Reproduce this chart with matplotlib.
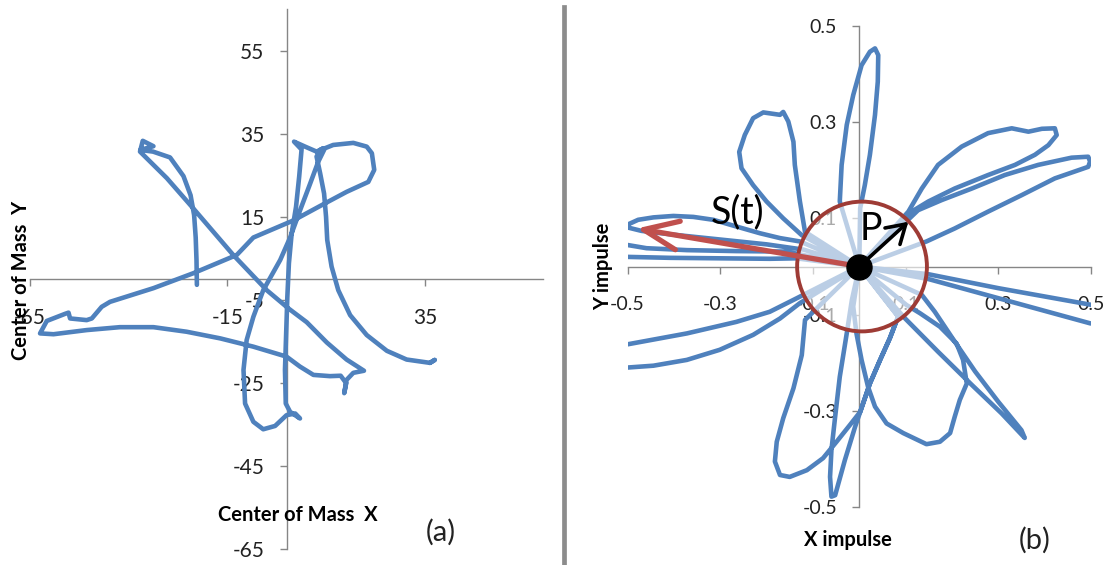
import matplotlib
matplotlib.use("Agg")
import matplotlib.pyplot as plt
from matplotlib.patches import FancyArrowPatch, Ellipse

plt.rcParams['font.family'] = ['Lato', 'DejaVu Sans']

# ---------------- data: panel (a) centre of mass trajectory ----------------
com_x = [36.3, 37.5, 36.3, 30.4, 25.4, 20.3, 16.1, 13.1, 11.4, 10.3, 10.0, 9.5, 8.5, 7.6, 8.5, 9.3,
         7.6, 4.7, 1.9, 3.8, 3.2, 2.4, 1.3, 0.6, 0.2, -0.1, -0.4, -0.2, 0.9, 3.4, 2.2,
         0.0, -2.9, -5.9, -8.4, -10.5, -10.9, -10.1, -8.4, -5.9, -1.6, 0.9, 3.4, 5.9, 8.0, 9.7,
         11.8, 16.9, 20.3, 21.6, 22.2, 20.7, 15.2, 8.5, 1.7, -8.4, -12.6, -23.6, -33.7, -44.7,
         -46.8, -49.3, -50.6, -54.8, -55.2, -56.1, -60.7, -62.4, -59.0, -50.6, -42.2, -33.7,
         -25.3, -16.8, -8.4, 0.0, 3.4, 6.8, 11.0, 13.7, 15.1, 14.6, 15.2, 16.9, 19.6,
         15.2, 10.2, 5.1, 0.5, -5.0, -13.5, -23.6, -30.3, -37.1, -36.4, -33.7, -37.0, -33.8,
         -29.5, -26.1, -24.3, -23.4, -23.0, -22.8, -22.7]
com_y = [-20.2, -19.5, -20.2, -19.4, -17.3, -13.5, -8.7, -2.7, 3.0, 9.4, 15.0, 20.6, 25.5, 29.5, 31.1, 31.5,
         30.7, 31.9, 33.1, 31.2, 24.7, 17.4, 11.0, 3.8, -4.3, -13.1, -21.9, -30.0, -32.0, -33.6, -32.4,
         -32.8, -35.4, -36.2, -34.4, -30.0, -21.9, -14.7, -9.1, -2.7, 4.6, 10.0, 16.5, 22.8, 28.2, 31.5,
         32.3, 32.8, 31.9, 30.3, 26.3, 23.4, 21.0, 17.6, 14.1, 10.0, 5.8, 1.4, -2.2, -5.5,
         -6.7, -9.5, -9.9, -9.5, -8.1, -8.4, -10.1, -13.1, -13.3, -12.3, -11.6, -11.6,
         -12.7, -14.3, -16.3, -18.7, -21.1, -23.1, -23.4, -23.3, -25.1, -27.5, -24.3, -22.6, -22.1,
         -19.4, -15.3, -10.4, -7.1, -2.7, 5.8, 17.0, 24.3, 30.7, 33.3, 32.0, 31.1, 30.7,
         29.3, 24.8, 20.2, 15.4, 10.0, 4.6, -1.4]
com_xticks = [-65, -15, 35]
com_yticks = [-65, -45, -25, -5, 15, 35, 55]

# ---------------- data: panel (b) impulse trajectory ----------------
impulse_x = [0.0,
    -0.042, -0.038, -0.027, -0.013, 0.005, 0.023, 0.034, 0.041, 0.040, 0.034, 0.023, 0.012, 0.002, 0.0,
    0.106, 0.135, 0.170, 0.221, 0.278, 0.329, 0.365, 0.394, 0.422, 0.426, 0.408, 0.379, 0.336, 0.278, 0.206, 0.149, 0.113, 0.0,
    0.127, 0.178, 0.243, 0.314, 0.386, 0.458, 0.494, 0.498, 0.494, 0.422, 0.350, 0.278, 0.206, 0.145, 0.0,
    0.149, 0.300, 0.498, 0.56, 0.56, 0.498, 0.278, 0.149, 0.0,
    0.099, 0.170, 0.243, 0.307, 0.357, 0.350, 0.300, 0.250, 0.206, 0.163, 0.135, 0.0,
    -0.013, -0.006, 0.005, 0.019, 0.034, 0.059, 0.095, 0.145, 0.174, 0.196, 0.206, 0.217, 0.232, 0.224, 0.210, 0.174, 0.131, 0.102, 0.0,
    -0.016, -0.027, -0.042, -0.052, -0.060, -0.063, -0.060, -0.052, -0.031, -0.009, 0.002, 0.023, 0.045, 0.066, 0.084, 0.0,
    -0.117, -0.124, -0.142, -0.164, -0.178, -0.182, -0.171, -0.150, -0.113, -0.078, -0.049, -0.020, 0.002, 0.023, 0.045, 0.066, 0.084, 0.0,
    -0.135, -0.193, -0.265, -0.372, -0.502, -0.56, -0.56, -0.502, -0.444, -0.372, -0.301, -0.229, -0.171, -0.128, 0.0,
    -0.157, -0.265, -0.372, -0.459, -0.502, -0.56, -0.56, -0.502, -0.408, -0.301, -0.193, -0.135, 0.0,
    -0.128, -0.171, -0.214, -0.265, -0.315, -0.358, -0.401, -0.444, -0.477, -0.502, -0.512, -0.47, -0.40, -0.30, -0.20, -0.12, 0.0,
    -0.117, -0.128, -0.139, -0.142, -0.153, -0.164, -0.171, -0.207, -0.229, -0.247, -0.259, -0.254, -0.229, -0.200, -0.164, -0.124, 0.0]
impulse_y = [0.0,
    0.135, 0.211, 0.294, 0.356, 0.418, 0.446, 0.453, 0.439, 0.384, 0.315, 0.232, 0.169, 0.121, 0.0,
    0.114, 0.162, 0.211, 0.249, 0.277, 0.287, 0.280, 0.286, 0.287, 0.273, 0.252, 0.232, 0.211, 0.190, 0.162, 0.135, 0.114, 0.0,
    0.117, 0.138, 0.162, 0.190, 0.211, 0.226, 0.228, 0.218, 0.207, 0.183, 0.148, 0.114, 0.079, 0.052, 0.0,
    -0.016, -0.045, -0.079, -0.090, -0.125, -0.118, -0.060, -0.026, 0.0,
    -0.108, -0.177, -0.246, -0.305, -0.356, -0.340, -0.281, -0.218, -0.156, -0.094, -0.059, 0.0,
    -0.083, -0.139, -0.194, -0.250, -0.291, -0.326, -0.346, -0.369, -0.364, -0.346, -0.312, -0.277, -0.243, -0.194, -0.160, -0.125, -0.097, -0.080, 0.0,
    -0.070, -0.139, -0.229, -0.312, -0.381, -0.437, -0.478, -0.475, -0.402, -0.333, -0.302, -0.243, -0.194, -0.149, -0.104, 0.0,
    -0.111, -0.184, -0.253, -0.315, -0.364, -0.405, -0.433, -0.437, -0.423, -0.398, -0.364, -0.329, -0.302, -0.243, -0.194, -0.149, -0.104, 0.0,
    -0.066, -0.094, -0.115, -0.139, -0.162, -0.172, -0.213, -0.210, -0.206, -0.194, -0.173, -0.142, -0.108, -0.076, 0.0,
    0.031, 0.032, 0.034, 0.038, 0.045, 0.040, 0.015, 0.020, 0.018, 0.017, 0.016, 0.017, 0.0,
    0.052, 0.059, 0.069, 0.083, 0.097, 0.103, 0.105, 0.102, 0.097, 0.086, 0.084, 0.074, 0.066, 0.056, 0.046, 0.035, 0.0,
    0.072, 0.135, 0.211, 0.259, 0.301, 0.321, 0.315, 0.320, 0.308, 0.273, 0.238, 0.204, 0.169, 0.135, 0.100, 0.065, 0.0]
impulse_ticks = [-0.5, -0.3, -0.1, 0.1, 0.3, 0.5]
s_vector = [-0.48, 0.079]
p_vector = [0.106, 0.093]
p_circle_radius = 0.14

LINE = '#4F81BD'
AXC = '#868686'
TXT = '#222222'

W, H = 1108, 565
fig = plt.figure(figsize=(W / 100, H / 100), dpi=100)


def fx(px):
    return px / W


def fy(py):
    return 1 - py / H


def style_axes(ax, xt, yt, fmt, lsize):
    for s in ('top', 'right'):
        ax.spines[s].set_visible(False)
    for s in ('left', 'bottom'):
        ax.spines[s].set_position(('data', 0))
        ax.spines[s].set_color(AXC)
        ax.spines[s].set_linewidth(1.0)
    ax.set_xticks(xt)
    ax.set_yticks(yt)
    ax.set_xticklabels([fmt(v) for v in xt])
    ax.set_yticklabels([fmt(v) for v in yt])
    ax.tick_params(axis='both', direction='out', length=5, width=1.0, color=AXC,
                   labelsize=lsize, labelcolor=TXT)
    ax.tick_params(axis='x', pad=16)
    ax.tick_params(axis='y', pad=11)
    ax.patch.set_visible(False)


# ---------------- panel (a) ----------------
axL = fig.add_axes([fx(29.8), fy(548.8), fx(543.3) - fx(29.8), fy(9.25) - fy(548.8)])
axL.set_xlim(-65, 65)
axL.set_ylim(-65, 65)
style_axes(axL, com_xticks, com_yticks, lambda v: f'{v:d}', 15)
axL.plot(com_x, com_y, color=LINE, lw=3.3, solid_capstyle='round', solid_joinstyle='round', zorder=3)

fig.text(fx(21), fy(280), 'Center of Mass  Y', rotation=90, ha='center', va='center',
         fontsize=14.5, fontweight='bold', color='black')
fig.text(fx(298), fy(515), 'Center of Mass  X', ha='center', va='center',
         fontsize=14.5, fontweight='bold', color='black')
fig.text(fx(441), fy(532), '(a)', ha='center', va='center', fontsize=21, color='#222222')

# separator
fig.add_artist(plt.Line2D([fx(564), fx(564)], [fy(7), fy(565)], color='#8c8c8c', lw=3.4))

# ---------------- panel (b) ----------------
axR = fig.add_axes([fx(627.5), fy(507.25), fx(1091) - fx(627.5), fy(25.75) - fy(507.25)])
axR.set_xlim(-0.5, 0.5)
axR.set_ylim(-0.5, 0.5)
style_axes(axR, impulse_ticks, impulse_ticks, lambda v: f'{v:.1f}', 14)
axR.plot(impulse_x, impulse_y, color=LINE, lw=3.3, solid_capstyle='round', solid_joinstyle='round', zorder=3)

rx = p_circle_radius * 1.0
ry = p_circle_radius * 463.5 / 481.5
circ = Ellipse((0.006, 0.0), 2 * rx, 2 * ry, facecolor=(1, 1, 1, 0.62), edgecolor='#9E3B35',
               lw=2.8, zorder=5)
axR.add_patch(circ)

arrS = FancyArrowPatch((0, 0), tuple(s_vector), arrowstyle='->,head_length=1.25,head_width=0.52',
                       mutation_scale=20, lw=3.8, color='#C0504D', shrinkA=0, shrinkB=0, zorder=6,
                       capstyle='round', joinstyle='round')
axR.add_patch(arrS)
arrP = FancyArrowPatch((0, 0), tuple(p_vector), arrowstyle='->,head_length=0.65,head_width=0.4',
                       mutation_scale=20, lw=2.6, color='black', shrinkA=0, shrinkB=0, zorder=6)
axR.add_patch(arrP)
axR.plot([0], [0], 'o', ms=18, color='black', zorder=7)

axR.text(-0.263, 0.113, 'S(t)', ha='center', va='center', fontsize=27, color='black', zorder=8)
axR.text(0.025, 0.078, 'P', ha='center', va='center', fontsize=27, color='black', zorder=8)

fig.text(fx(603), fy(266), 'Y impulse', rotation=90, ha='center', va='center',
         fontsize=14.5, fontweight='bold', color='black')
fig.text(fx(848), fy(540), 'X impulse', ha='center', va='center',
         fontsize=14.5, fontweight='bold', color='black')
fig.text(fx(1035), fy(540), '(b)', ha='center', va='center', fontsize=21, color='#222222')

fig.savefig('out.png', dpi=100, facecolor='white')
